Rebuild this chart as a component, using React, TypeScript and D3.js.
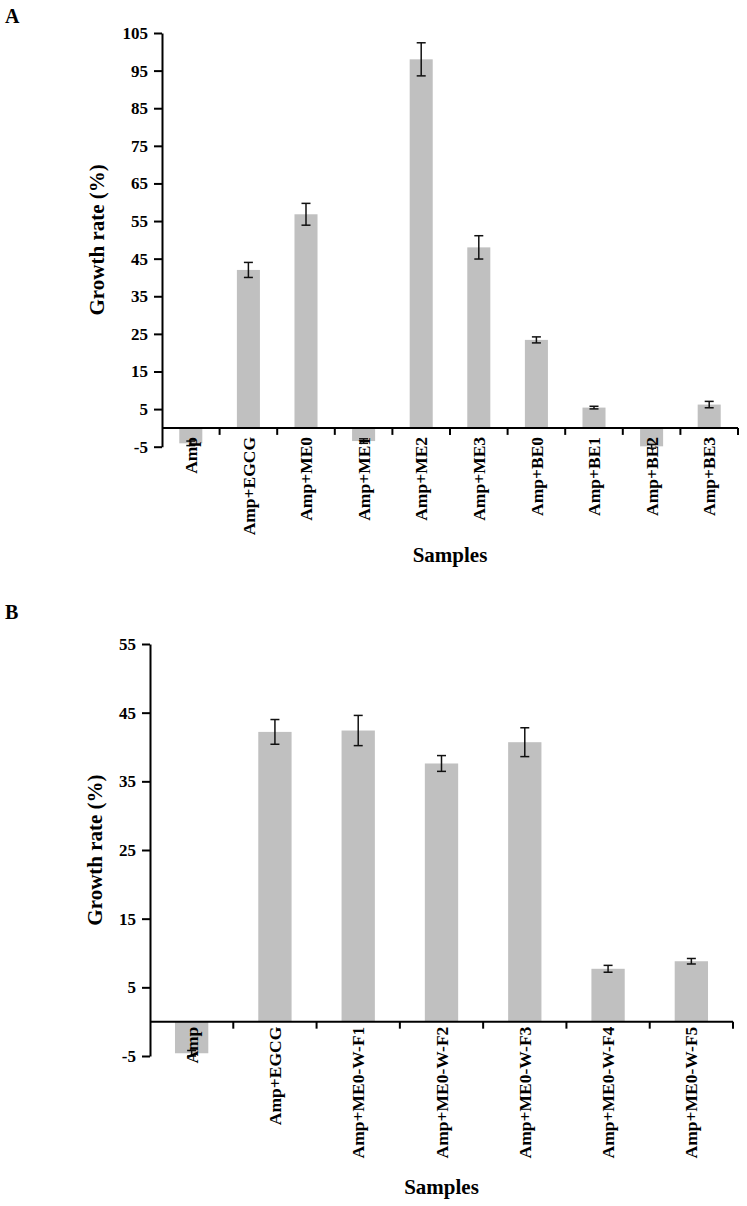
import React, { useEffect, useRef } from 'react';
import * as d3 from 'd3';

// Panel A
const samplesA = ['Amp', 'Amp+EGCG', 'Amp+ME0', 'Amp+ME1', 'Amp+ME2', 'Amp+ME3', 'Amp+BE0', 'Amp+BE1', 'Amp+BE2', 'Amp+BE3'];
const growthA = [-4.1, 42.0, 56.8, -3.5, 98.0, 48.0, 23.4, 5.4, -4.9, 6.2];
const errorA = [0.6, 2.0, 2.9, 0.6, 4.4, 3.1, 0.8, 0.35, 0.5, 0.85];
const ticksA = [-5, 5, 15, 25, 35, 45, 55, 65, 75, 85, 95, 105];

// Panel B
const samplesB = ['Amp', 'Amp+EGCG', 'Amp+ME0-W-F1', 'Amp+ME0-W-F2', 'Amp+ME0-W-F3', 'Amp+ME0-W-F4', 'Amp+ME0-W-F5'];
const growthB = [-4.6, 42.2, 42.4, 37.6, 40.7, 7.7, 8.8];
const errorB = [0.4, 1.8, 2.2, 1.15, 2.1, 0.5, 0.4];
const ticksB = [-5, 5, 15, 25, 35, 45, 55];

const FONT = '"Liberation Serif", "Times New Roman", serif';

interface PanelOpts {
  letter: string;
  letterY: number;
  samples: string[];
  values: number[];
  errors: number[];
  ticks: number[];
  left: number;
  right: number;
  top: number;
  bottom: number;
  labelGap: number;
  titleX: number;
  samplesY: number;
}

const drawPanel = (svg: d3.Selection<SVGSVGElement, unknown, null, undefined>, o: PanelOpts) => {
  const g = svg.append('g');

  const x = d3.scaleBand<string>()
    .domain(o.samples)
    .range([o.left, o.right])
    .padding(0);

  const y = d3.scaleLinear()
    .domain([o.ticks[0], o.ticks[o.ticks.length - 1]])
    .range([o.bottom, o.top]);

  const barW = x.bandwidth() * 0.4;
  const rows = o.samples.map((s, i) => ({ s, v: o.values[i], e: o.errors[i] }));

  // bars
  g.selectAll('.bar')
    .data(rows)
    .enter()
    .append('rect')
    .attr('x', d => (x(d.s) as number) + x.bandwidth() / 2 - barW / 2)
    .attr('y', d => y(Math.max(0, d.v)))
    .attr('width', barW)
    .attr('height', d => Math.abs(y(d.v) - y(0)))
    .attr('fill', '#c0c0c0');

  // error bars
  const capW = 9;
  const eb = g.selectAll('.err')
    .data(rows)
    .enter()
    .append('g')
    .attr('stroke', '#111')
    .attr('stroke-width', 1.5);
  eb.append('line')
    .attr('x1', d => (x(d.s) as number) + x.bandwidth() / 2)
    .attr('x2', d => (x(d.s) as number) + x.bandwidth() / 2)
    .attr('y1', d => y(d.v - d.e))
    .attr('y2', d => y(d.v + d.e));
  [-1, 1].forEach(sign => {
    eb.append('line')
      .attr('x1', d => (x(d.s) as number) + x.bandwidth() / 2 - capW / 2)
      .attr('x2', d => (x(d.s) as number) + x.bandwidth() / 2 + capW / 2)
      .attr('y1', d => y(d.v + sign * d.e))
      .attr('y2', d => y(d.v + sign * d.e));
  });

  // y axis (plain hyphen for negatives, like the original)
  const yAxis = g.append('g')
    .attr('transform', `translate(${o.left},0)`)
    .call(d3.axisLeft(y).tickValues(o.ticks).tickSize(8).tickSizeOuter(0).tickPadding(6).tickFormat(d => String(d)));
  yAxis.selectAll('path, line').attr('stroke', '#000').attr('stroke-width', 2);
  yAxis.selectAll('text')
    .attr('fill', '#000')
    .style('font-family', FONT)
    .style('font-size', '17px')
    .style('font-weight', 'bold');

  // x axis at zero
  const y0 = y(0);
  g.append('line')
    .attr('x1', o.left)
    .attr('x2', o.right)
    .attr('y1', y0)
    .attr('y2', y0)
    .attr('stroke', '#000')
    .attr('stroke-width', 2);
  g.selectAll('.xtick')
    .data(o.samples)
    .enter()
    .append('line')
    .attr('x1', d => (x(d) as number) + x.bandwidth())
    .attr('x2', d => (x(d) as number) + x.bandwidth())
    .attr('y1', y0)
    .attr('y2', y0 + 7)
    .attr('stroke', '#000')
    .attr('stroke-width', 2);

  g.selectAll('.xlabel')
    .data(o.samples)
    .enter()
    .append('text')
    .attr('transform', d => `translate(${(x(d) as number) + x.bandwidth() / 2},${y0 + o.labelGap}) rotate(-90)`)
    .attr('dy', '0.35em')
    .attr('text-anchor', 'end')
    .style('font-family', FONT)
    .style('font-size', '17.5px')
    .style('font-weight', 'bold')
    .text(d => d);

  // axis titles
  g.append('text')
    .attr('transform', `translate(${o.titleX},${(o.top + o.bottom) / 2}) rotate(-90)`)
    .attr('text-anchor', 'middle')
    .style('font-family', FONT)
    .style('font-size', '21px')
    .style('font-weight', 'bold')
    .text('Growth rate (%)');

  g.append('text')
    .attr('x', (o.left + o.right) / 2)
    .attr('y', o.samplesY)
    .attr('text-anchor', 'middle')
    .style('font-family', FONT)
    .style('font-size', '21px')
    .style('font-weight', 'bold')
    .text('Samples');

  // panel letter
  svg.append('text')
    .attr('x', 5)
    .attr('y', o.letterY)
    .style('font-family', FONT)
    .style('font-size', '20px')
    .style('font-weight', 'bold')
    .text(o.letter);
};

const App: React.FC = () => {
  const svgRef = useRef<SVGSVGElement>(null);

  useEffect(() => {
    if (!svgRef.current) return;
    const svg = d3.select(svgRef.current);
    svg.selectAll('*').remove();

    drawPanel(svg, {
      letter: 'A', letterY: 23,
      samples: samplesA, values: growthA, errors: errorA, ticks: ticksA,
      left: 162, right: 738, top: 33, bottom: 446.7,
      labelGap: 9, titleX: 104, samplesY: 562,
    });

    drawPanel(svg, {
      letter: 'B', letterY: 619,
      samples: samplesB, values: growthB, errors: errorB, ticks: ticksB,
      left: 150, right: 733, top: 644, bottom: 1056,
      labelGap: 5, titleX: 102, samplesY: 1194,
    });
  }, []);

  return (
    <div>
      <svg ref={svgRef} width="747" height="1206" style={{ position: 'absolute', left: 0, top: 0, background: '#fff' }}></svg>
    </div>
  );
};

export default App;
